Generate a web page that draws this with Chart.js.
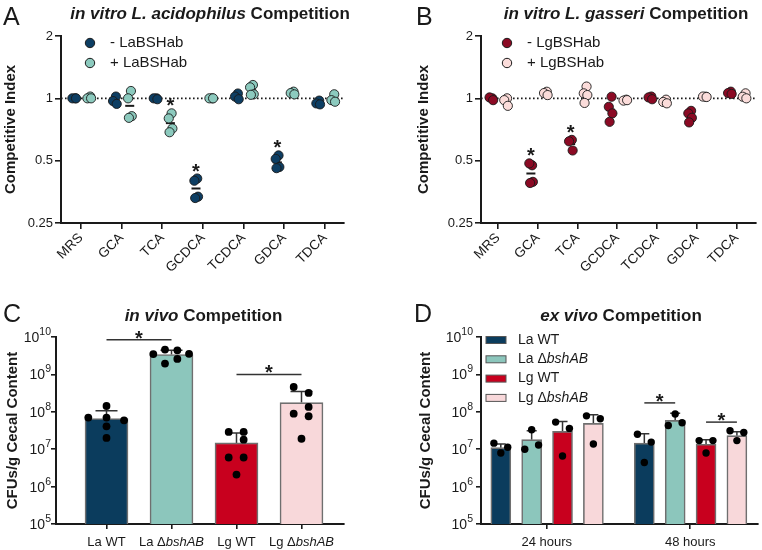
<!DOCTYPE html>
<html lang="en">
<head>
<meta charset="UTF-8">
<title>BSH competition</title>
<script src="https://cdn.jsdelivr.net/npm/chart.js@4.4.1/dist/chart.umd.min.js"></script>
<style>
  body { margin: 0; background: #fff; }
  .fig { position: relative; width: 762px; height: 550px; overflow: hidden; }
  .fig canvas { position: absolute; }
</style>
</head>
<body>
<div class="fig">
  <canvas id="chartA" width="381" height="275" style="left:0;top:0"></canvas>
  <canvas id="chartB" width="381" height="275" style="left:381px;top:0"></canvas>
  <canvas id="chartC" width="381" height="275" style="left:0;top:275px"></canvas>
  <canvas id="chartD" width="381" height="275" style="left:381px;top:275px"></canvas>
</div>
<script>
// ---------- data ----------
const bileAcids = ['MRS', 'GCA', 'TCA', 'GCDCA', 'TCDCA', 'GDCA', 'TDCA'];
const ciTicks = [0.25, 0.5, 1, 2];

// A: L. acidophilus competitive index, replicates per bile acid
const laMinus = [
  [1.0, 1.0, 1.0],
  [1.02, 0.97, 0.94],
  [1.0, 1.0, 0.99],
  [0.41, 0.40, 0.335, 0.33],
  [1.055, 1.02, 0.99],
  [0.53, 0.51, 0.466, 0.46],
  [0.975, 0.945, 0.935]
];
const laPlus = [
  [1.02, 1.0, 1.0],
  [1.085, 1.0, 0.82, 0.805],
  [0.846, 0.80, 0.715, 0.686],
  [1.0, 1.0, 1.0],
  [1.16, 1.13, 1.046, 1.04],
  [1.077, 1.06, 1.045],
  [1.046, 0.98, 0.963]
];
const laStars = [[2, 'plus'], [3, 'minus'], [5, 'minus']];

// B: L. gasseri competitive index
const lgMinus = [
  [1.0, 1.01, 0.98],
  [0.475, 0.485, 0.395, 0.39],
  [0.63, 0.62, 0.56],
  [1.018, 0.91, 0.846, 0.77],
  [1.02, 1.01, 0.99],
  [0.87, 0.846, 0.805, 0.765],
  [1.077, 1.06, 1.05]
];
const lgPlus = [
  [1.0, 0.98, 0.92],
  [1.076, 1.06, 1.037],
  [1.14, 1.057, 1.037, 0.95],
  [0.985, 0.975, 0.98],
  [0.985, 0.96, 0.946],
  [1.018, 1.02, 1.015],
  [1.057, 1.018, 1.0]
];
const lgStars = [[1, 'minus'], [2, 'minus']];

// C: in vivo CFUs/g cecal content
const strains = ['La WT', 'La ΔbshAB', 'Lg WT', 'Lg ΔbshAB'];
const cfuTicks = [1e5, 1e6, 1e7, 1e8, 1e9, 1e10];
const invivoMean = [6.6e7, 3.4e9, 1.47e7, 1.76e8];
const invivoSdTop = [1.07e8, 4.4e9, 2.7e7, 3.5e8];
const invivoMice = [
  [7.0e7, 1.43e8, 7.0e7, 5.9e7, 4.1e7, 2.0e7],
  [3.5e9, 4.6e9, 4.4e9, 3.55e9, 1.95e9, 2.6e9],
  [2.9e7, 2.9e7, 1.8e7, 6.0e6, 6.0e6, 2.1e6],
  [4.6e8, 3.2e8, 1.35e8, 8.9e7, 7.6e7, 1.9e7]
];
const invivoSig = [[0, 1, 8.5e9], [2, 3, 1.0e9]];

// D: ex vivo CFUs/g cecal content, [24 h, 48 h]
const timepoints = ['24 hours', '48 hours'];
const exLaWT = [1.1e7, 1.45e7];
const exLaKO = [1.8e7, 5.9e7];
const exLgWT = [3.0e7, 1.36e7];
const exLgKO = [4.9e7, 2.3e7];
const exLaWTsd = [1.38e7, 2.6e7];
const exLaKOsd = [3.1e7, 9.1e7];
const exLgWTsd = [5.5e7, 1.8e7];
const exLgKOsd = [8.3e7, 2.95e7];
const exLaWTpts = [[1.45e7, 1.13e7, 7.9e6], [2.5e7, 1.55e7, 4.4e6]];
const exLaKOpts = [[1.0e7, 1.3e7, 3.3e7], [4.3e7, 5.1e7, 8.7e7]];
const exLgWTpts = [[5.3e7, 3.6e7, 6.6e6], [1.7e7, 1.7e7, 7.9e6]];
const exLgKOpts = [[7.8e7, 6.5e7, 1.38e7], [3.1e7, 2.8e7, 1.7e7]];
const exvivoSig = [[1, 0, 1, 1.73e8], [1, 2, 3, 5.3e7]]; // time, strain, strain, height

// ---------- style / layout ----------
const FONT = "'Liberation Sans', Arial, Helvetica, sans-serif";
const INK = '#1a1a1a';
const strainColors = ['#0b3c5d', '#8cc6bc', '#c8001e', '#f8d8da'];
const ciSide = { minus: -0.17, plus: 0.2 };
const ciJitter = [0.03, -0.04, 0.05, -0.02];
const invivoJitter = [
  [-0.28, 0, 0, 0.27, 0, 0],
  [-0.28, -0.1, 0.09, 0.27, -0.1, 0.09],
  [-0.12, 0.11, 0.11, -0.12, 0.11, 0],
  [-0.12, 0.11, 0.11, -0.12, 0.11, 0]
];
const exSlot = [-0.32, -0.105, 0.11, 0.325];
const exJitter = [-0.048, 0.048, 0];

function richText(ctx, parts, x, y, align) {
  let w = 0;
  parts.forEach(p => { ctx.font = p[1]; w += ctx.measureText(p[0]).width; });
  let cx = align === 'center' ? x - w / 2 : align === 'right' ? x - w : x;
  ctx.textAlign = 'left';
  parts.forEach(p => { ctx.font = p[1]; ctx.fillText(p[0], cx, y); cx += ctx.measureText(p[0]).width; });
}
function strainParts(text, size) {
  return text.split(/(bshAB)/).filter(Boolean)
    .map(t => [t, (t === 'bshAB' ? 'italic ' : '') + size + 'px ' + FONT]);
}
function titleParts(italic, plain) {
  return [[italic + ' ', 'italic bold 17px ' + FONT], [plain, 'bold 17px ' + FONT]];
}
const axisGrid = { drawOnChartArea: false, offset: false, tickLength: 6, color: INK, lineWidth: 1.6 };
const axisBorder = { color: INK, width: 2 };

// ---------- competitive index panels ----------
function makeCIChart(id, p) {
  const gmean = v => Math.exp(v.reduce((s, q) => s + Math.log(q), 0) / v.length);
  const spread = side => p[side].flatMap((v, i) => v.map((y, j) => ({ x: i + ciSide[side] + ciJitter[j], y })));
  const means = ['minus', 'plus'].flatMap(side => p[side].map((v, i) => ({ x: i + ciSide[side], y: gmean(v) })));

  const deco = {
    id: 'deco',
    beforeDatasetsDraw(chart) {
      const { ctx, chartArea: a, scales: { y } } = chart;
      const py = y.getPixelForValue(1);
      ctx.save();
      ctx.strokeStyle = INK; ctx.lineWidth = 1.6; ctx.setLineDash([1.6, 2.4]);
      ctx.beginPath(); ctx.moveTo(a.left, py); ctx.lineTo(a.right, py); ctx.stroke();
      ctx.restore();
    },
    afterDraw(chart) {
      const { ctx, scales: { x, y } } = chart;
      ctx.save();
      ctx.fillStyle = INK; ctx.textBaseline = 'alphabetic';
      ctx.font = '25px ' + FONT; ctx.textAlign = 'left';
      ctx.fillText(p.letter, p.letterX, 25);
      richText(ctx, p.title, p.titleX, 18.5, 'center');
      p.legend.forEach((label, k) => {
        const cy = 43 + 20 * k;
        ctx.beginPath(); ctx.arc(p.legendX, cy, 4.7, 0, Math.PI * 2);
        ctx.fillStyle = p.colors[k]; ctx.fill();
        ctx.lineWidth = 1; ctx.strokeStyle = INK; ctx.stroke();
        ctx.fillStyle = INK; ctx.font = '15px ' + FONT; ctx.textAlign = 'left'; ctx.textBaseline = 'middle';
        ctx.fillText(label, p.legendX + 20, cy);
      });
      ctx.textBaseline = 'alphabetic'; ctx.textAlign = 'center'; ctx.font = 'bold 20px ' + FONT;
      p.stars.forEach(([i, side]) => {
        const top = y.getPixelForValue(Math.max(...p[side][i]));
        ctx.fillText('*', x.getPixelForValue(i + ciSide[side]), top - 1);
      });
      ctx.restore();
    }
  };

  return new Chart(document.getElementById(id), {
    type: 'scatter',
    data: {
      datasets: [
        { data: means, pointStyle: 'line', pointRadius: 4.5, pointBorderWidth: 2, pointBorderColor: INK, order: 3 },
        { data: spread('minus'), pointRadius: 4.6, pointBackgroundColor: p.colors[0], pointBorderColor: INK, pointBorderWidth: 0.9, order: 2 },
        { data: spread('plus'), pointRadius: 4.6, pointBackgroundColor: p.colors[1], pointBorderColor: INK, pointBorderWidth: 0.9, order: 1 }
      ]
    },
    options: {
      responsive: false, animation: false, events: [],
      layout: { padding: p.pad },
      plugins: { legend: { display: false }, tooltip: { enabled: false } },
      scales: {
        x: {
          type: 'linear', min: p.xMin, max: p.xMax, offset: false,
          afterFit: s => { s.height = 52; },
          afterBuildTicks: s => { s.ticks = bileAcids.map((_, i) => ({ value: i })); },
          ticks: { autoSkip: false, minRotation: 45, maxRotation: 45, padding: 1, color: INK,
                   font: { family: FONT, size: 13.5 }, callback: v => bileAcids[v] },
          grid: axisGrid, border: axisBorder
        },
        y: {
          type: 'logarithmic', min: 0.25, max: 2,
          afterFit: s => { s.width = p.yWidth; },
          afterBuildTicks: s => { s.ticks = ciTicks.map(v => ({ value: v })); },
          ticks: { autoSkip: false, padding: 2, color: INK, font: { family: FONT, size: 13 }, callback: v => String(v) },
          title: { display: true, text: 'Competitive Index', color: INK,
                   font: { family: FONT, size: 15, weight: 'bold' }, padding: { top: p.titlePad, bottom: 0 } },
          grid: axisGrid, border: axisBorder
        }
      }
    },
    plugins: [deco]
  });
}

makeCIChart('chartA', {
  minus: laMinus, plus: laPlus, stars: laStars,
  colors: ['#0d3e63', '#8ccabe'], legend: ['- LaBSHab', '+ LaBSHab'],
  title: titleParts('in vitro L. acidophilus', 'Competition'), titleX: 210,
  letter: 'A', letterX: 3, legendX: 90,
  pad: { left: 0, right: 37, top: 36, bottom: 0 }, yWidth: 61, titlePad: 2, xMin: -0.49, xMax: 6.47
});
makeCIChart('chartB', {
  minus: lgMinus, plus: lgPlus, stars: lgStars,
  colors: ['#8b0a24', '#fbdcda'], legend: ['- LgBSHab', '+ LgBSHab'],
  title: titleParts('in vitro L. gasseri', 'Competition'), titleX: 245,
  letter: 'B', letterX: 35, legendX: 126,
  pad: { left: 33, right: 0, top: 36, bottom: 0 }, yWidth: 67, titlePad: 1, xMin: -0.425, xMax: 6.48
});

// ---------- CFU bar panels ----------
function makeCfuChart(id, p) {
  const deco = {
    id: 'deco',
    beforeDatasetsDraw(chart) {
      const { ctx, scales: { x, y } } = chart;
      ctx.save(); ctx.strokeStyle = '#333'; ctx.lineWidth = 1.5;
      p.bars.forEach(b => {
        const px = x.getPixelForValue(b.x), y0 = y.getPixelForValue(b.mean), y1 = y.getPixelForValue(b.sd);
        ctx.beginPath(); ctx.moveTo(px, y0); ctx.lineTo(px, y1);
        ctx.moveTo(px - p.cap, y1); ctx.lineTo(px + p.cap, y1); ctx.stroke();
      });
      ctx.restore();
    },
    afterDraw(chart) {
      const { ctx, scales: { x, y } } = chart;
      ctx.save();
      ctx.fillStyle = INK; ctx.textBaseline = 'alphabetic';
      // y tick labels 10^n
      cfuTicks.forEach(v => {
        const py = y.getPixelForValue(v);
        const exp = String(Math.round(Math.log10(v)));
        ctx.textAlign = 'right';
        ctx.font = '10.5px ' + FONT;
        const we = ctx.measureText(exp).width;
        const right = y.right - p.labelGap;
        ctx.fillText(exp, right, py - 2);
        ctx.font = '14px ' + FONT;
        ctx.fillText('10', right - we, py + 5);
      });
      // x labels
      p.xLabels.forEach(([v, text]) => richText(ctx, strainParts(text, 13), x.getPixelForValue(v), 271, 'center'));
      // significance brackets
      ctx.strokeStyle = '#333'; ctx.lineWidth = 1.5;
      p.sig.forEach(([a, b, h]) => {
        const x0 = x.getPixelForValue(a), x1 = x.getPixelForValue(b), py = y.getPixelForValue(h);
        ctx.beginPath(); ctx.moveTo(x0, py); ctx.lineTo(x1, py); ctx.stroke();
        ctx.textAlign = 'center'; ctx.font = 'bold 20px ' + FONT;
        ctx.fillText('*', (x0 + x1) / 2, py + 5);
      });
      // title and letter
      ctx.textAlign = 'left'; ctx.font = '25px ' + FONT;
      ctx.fillText(p.letter, p.letterX, 47);
      richText(ctx, p.title, p.titleX, 45.5, 'center');
      // legend
      if (p.legend) {
        strains.forEach((s, k) => {
          const cy = 65 + 19.3 * k;
          ctx.fillStyle = strainColors[k]; ctx.fillRect(105, cy - 3.5, 20, 7);
          ctx.strokeStyle = '#555'; ctx.lineWidth = 1; ctx.strokeRect(105, cy - 3.5, 20, 7);
          ctx.fillStyle = INK; ctx.textBaseline = 'middle';
          richText(ctx, strainParts(s, 14), 137, cy, 'left');
        });
      }
      ctx.restore();
    }
  };

  return new Chart(document.getElementById(id), {
    type: 'bar',
    data: {
      datasets: [
        { type: 'scatter', order: 1, pointRadius: p.dot, pointBackgroundColor: '#000', pointBorderWidth: 0,
          data: p.bars.flatMap(b => b.pts.map((v, j) => ({ x: b.x + b.jit[j], y: v }))) },
        { order: 2, data: p.bars.map(b => ({ x: b.x, y: b.mean })), backgroundColor: p.bars.map(b => b.color),
          borderColor: '#6f6f6f', borderWidth: 1.6, barThickness: p.barWidth, grouped: false }
      ]
    },
    options: {
      responsive: false, animation: false, events: [],
      layout: { padding: p.pad },
      plugins: { legend: { display: false }, tooltip: { enabled: false } },
      scales: {
        x: {
          type: 'linear', min: p.xMin, max: p.xMax, offset: false,
          afterFit: s => { s.height = 26; },
          afterBuildTicks: s => { s.ticks = p.xLabels.map(l => ({ value: l[0] })); },
          ticks: { autoSkip: false, callback: () => '' },
          grid: { ...axisGrid, tickLength: 5 }, border: axisBorder
        },
        y: {
          type: 'logarithmic', min: 1e5, max: 1e10,
          afterFit: s => { s.width = p.yWidth; },
          afterBuildTicks: s => { s.ticks = cfuTicks.map(v => ({ value: v })); },
          ticks: { autoSkip: false, callback: () => '' },
          title: { display: true, text: 'CFUs/g Cecal Content', color: INK,
                   font: { family: FONT, size: 15, weight: 'bold' }, padding: { top: p.titlePad, bottom: 0 } },
          grid: { ...axisGrid, tickLength: 5 }, border: axisBorder
        }
      }
    },
    plugins: [deco]
  });
}

makeCfuChart('chartC', {
  bars: strains.map((s, i) => ({ x: i, mean: invivoMean[i], sd: invivoSdTop[i], pts: invivoMice[i],
                                 jit: invivoJitter[i], color: strainColors[i] })),
  xLabels: strains.map((s, i) => [i, s]),
  sig: invivoSig,
  title: titleParts('in vivo', 'Competition'), titleX: 203.5, letter: 'C', letterX: 3,
  barWidth: 43, cap: 11, dot: 3.9, labelGap: 5,
  pad: { left: 0, right: 37, top: 62, bottom: 0 }, yWidth: 56, titlePad: 4, xMin: -0.777, xMax: 3.654
});

const exMeans = [exLaWT, exLaKO, exLgWT, exLgKO];
const exSds = [exLaWTsd, exLaKOsd, exLgWTsd, exLgKOsd];
const exPts = [exLaWTpts, exLaKOpts, exLgWTpts, exLgKOpts];
makeCfuChart('chartD', {
  bars: exMeans.flatMap((m, k) => timepoints.map((t, g) => ({ x: g + exSlot[k], mean: m[g], sd: exSds[k][g],
                                                               pts: exPts[k][g], jit: exJitter, color: strainColors[k] }))),
  xLabels: timepoints.map((t, g) => [g, t]),
  sig: exvivoSig.map(([g, a, b, h]) => [g + exSlot[a], g + exSlot[b], h]),
  title: titleParts('ex vivo', 'Competition'), titleX: 240, letter: 'D', letterX: 33, legend: true,
  barWidth: 20, cap: 5, dot: 3.7, labelGap: 8,
  pad: { left: 34, right: 0, top: 62, bottom: 0 }, yWidth: 66, titlePad: 2, xMin: -0.458, xMax: 1.472
});
</script>
</body>
</html>
